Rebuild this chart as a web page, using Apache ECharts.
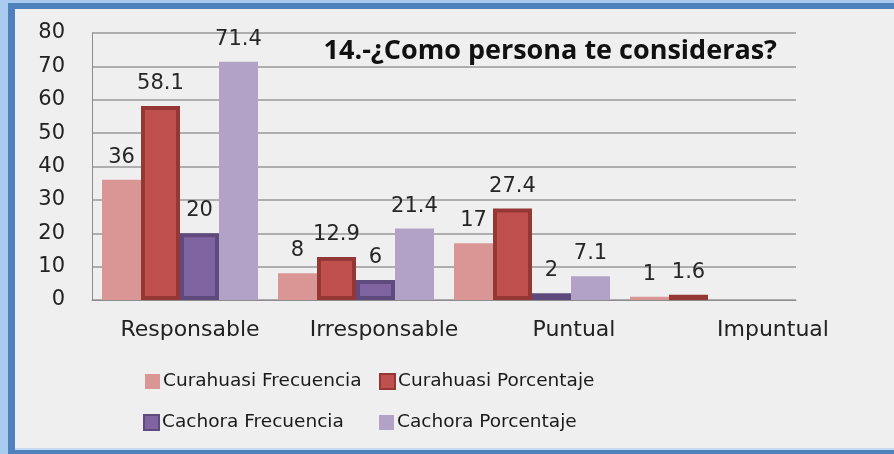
<!DOCTYPE html>
<html>
<head>
<meta charset="utf-8">
<script src="https://cdn.jsdelivr.net/npm/echarts@6/dist/echarts.min.js"></script>
<style>
  html, body { margin: 0; padding: 0; background: #a9cbf0; }
  .frame {
    position: absolute; left: 0; top: 0; width: 894px; height: 454px;
    background: #a9cbf0; overflow: hidden;
  }
  .inner {
    position: absolute; left: 8px; top: 3px; right: -10px; bottom: 0;
    background: #4f81bd;
  }
  #chart {
    position: absolute; left: 0; top: 0; width: 894px; height: 454px;
  }
  .bg {
    position: absolute; left: 15px; top: 9px; width: 879px; height: 439px;
    background: #efefef; border-bottom: 2px solid #c6daf2;
  }
</style>
</head>
<body>
<div class="frame">
  <div class="inner"></div>
  <div class="bg"></div>
  <div id="chart"></div>
</div>
<script>
// categorías y valores
const categories = ["Responsable", "Irresponsable", "Puntual", "Impuntual"];
const curahuasiFrecuencia = [36, 8, 17, 1];
const curahuasiPorcentaje = [58.1, 12.9, 27.4, 1.6];
const cachoraFrecuencia = [20, 6, 2, null];
const cachoraPorcentaje = [71.4, 21.4, 7.1, null];
const yTicks = [0, 80, 10];

const font = "DejaVu Sans";

// desplazamiento de las etiquetas del eje x (el original está estirado)
const labelPad = [20, 56, 84, 130];
const rich = {};
labelPad.forEach((p, i) => {
  rich["c" + i] = { padding: [0, 0, 0, p], fontFamily: font, fontSize: 22, color: "#222" };
});

const chart = echarts.init(document.getElementById("chart"));

const labelStyle = {
  show: true,
  position: "top",
  distance: 12,
  fontFamily: font,
  fontSize: 21,
  color: "#262626"
};

const legendBase = {
  orient: "horizontal",
  icon: "rect",
  itemWidth: 15,
  itemHeight: 15,
  itemGap: 0,
  textStyle: { fontFamily: font, fontSize: 18.5, color: "#1a1a1a", padding: [0, 0, 0, -2] }
};

chart.setOption({
  backgroundColor: "transparent",
  animation: false,
  title: {
    text: "14.-¿Como persona te consideras?",
    right: 112,
    top: 33,
    textStyle: { fontFamily: "Open Sans", fontWeight: "bold", fontSize: 27, color: "#111" }
  },
  legend: [
    { ...legendBase, data: ["Curahuasi Frecuencia"], left: 140, top: 367 },
    { ...legendBase, data: ["Curahuasi Porcentaje"], left: 374, top: 367 },
    { ...legendBase, data: ["Cachora Frecuencia"], left: 138, top: 408 },
    { ...legendBase, data: ["Cachora Porcentaje"], left: 374, top: 408 }
  ],
  grid: { left: 92, right: 98, top: 33, bottom: 154, containLabel: false },
  xAxis: {
    type: "category",
    data: categories,
    axisLine: { lineStyle: { color: "#8c8c8c", width: 1 } },
    axisTick: { show: false },
    axisLabel: {
      interval: 0,
      margin: 19,
      formatter: (v, i) => "{c" + i + "|" + v + "}",
      rich: rich
    }
  },
  yAxis: {
    type: "value",
    min: yTicks[0],
    max: yTicks[1],
    interval: yTicks[2],
    axisLine: { show: true, lineStyle: { color: "#8c8c8c" } },
    axisTick: { show: false },
    axisLabel: { fontFamily: font, fontSize: 21, color: "#222", margin: 27 },
    splitLine: { lineStyle: { color: "#999", width: 1.5 } }
  },
  series: [
    {
      name: "Curahuasi Frecuencia",
      type: "bar",
      data: curahuasiFrecuencia,
      barWidth: 39,
      barGap: "0%",
      itemStyle: { color: "#d99694" },
      label: labelStyle
    },
    {
      name: "Curahuasi Porcentaje",
      type: "bar",
      data: curahuasiPorcentaje,
      barWidth: 39,
      barGap: "0%",
      itemStyle: { color: "#c0504d", borderColor: "#953735", borderWidth: 4 },
      label: labelStyle
    },
    {
      name: "Cachora Frecuencia",
      type: "bar",
      data: cachoraFrecuencia,
      barWidth: 39,
      barGap: "0%",
      itemStyle: { color: "#8064a2", borderColor: "#5f4a7d", borderWidth: 4 },
      label: labelStyle
    },
    {
      name: "Cachora Porcentaje",
      type: "bar",
      data: cachoraPorcentaje,
      barWidth: 39,
      barGap: "0%",
      itemStyle: { color: "#b3a2c7" },
      label: labelStyle
    }
  ]
});

window.addEventListener("resize", () => chart.resize());
</script>
</body>
</html>
